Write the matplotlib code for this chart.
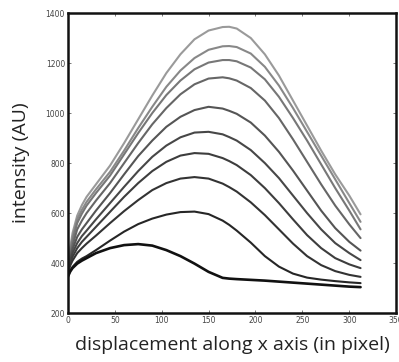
import matplotlib
matplotlib.use("Agg")
import matplotlib.pyplot as plt

x = [0, 2.5, 5, 10, 15, 20, 30, 45, 60, 75, 90, 105, 120, 135, 150, 165, 172, 180, 195, 210, 225, 240, 255, 270, 285, 300, 312]

c1 = [345, 366, 380, 398, 410, 420, 440, 460, 472, 476, 470, 452, 428, 398, 365, 341, 338, 336, 333, 330, 326, 322, 318, 314, 310, 306, 304]
c2 = [348, 370, 385, 405, 418, 428, 452, 490, 526, 556, 578, 594, 604, 606, 596, 570, 553, 530, 482, 428, 386, 358, 342, 334, 328, 323, 320]
c3 = [355, 390, 410, 440, 460, 478, 510, 560, 608, 652, 692, 720, 738, 744, 738, 718, 704, 686, 643, 592, 535, 478, 428, 392, 368, 353, 345]
c4 = [358, 400, 425, 460, 485, 505, 545, 605, 665, 720, 768, 805, 830, 840, 837, 820, 808, 792, 752, 700, 640, 575, 512, 460, 420, 395, 380]
c5 = [360, 410, 440, 480, 508, 530, 575, 640, 705, 768, 825, 870, 903, 922, 925, 915, 904, 890, 852, 800, 740, 670, 600, 535, 480, 440, 412]
c6 = [362, 420, 455, 505, 535, 560, 610, 680, 755, 828, 890, 945, 985, 1012, 1025, 1018, 1009, 997, 962, 910, 845, 770, 690, 610, 540, 485, 450]
c7 = [364, 430, 470, 535, 570, 600, 650, 720, 800, 880, 955, 1020, 1075, 1115, 1138, 1143, 1139, 1130, 1100, 1050, 980, 895, 805, 715, 630, 555, 500]
c8 = [366, 440, 490, 560, 598, 630, 680, 750, 835, 920, 1000, 1072, 1130, 1175, 1202, 1212, 1212, 1207, 1182, 1135, 1065, 980, 890, 795, 700, 610, 535]
c9 = [368, 450, 505, 575, 613, 645, 695, 765, 850, 940, 1025, 1105, 1170, 1220, 1253, 1267, 1268, 1264, 1238, 1185, 1110, 1020, 925, 830, 735, 640, 565]
c10 = [370, 460, 520, 590, 632, 665, 715, 790, 880, 975, 1070, 1160, 1235, 1295, 1330, 1344, 1345, 1338, 1300, 1235, 1150, 1050, 950, 850, 755, 670, 595]

series = [c1, c2, c3, c4, c5, c6, c7, c8, c9, c10]
grays = ["#111111", "#262626", "#333333", "#3d3d3d", "#474747", "#555555", "#666666", "#777777", "#888888", "#9a9a9a"]

xticks = [0, 50, 100, 150, 200, 250, 300, 350]
yticks = [200, 400, 600, 800, 1000, 1200, 1400]

fig = plt.figure(figsize=(3.99, 3.62), dpi=100)
ax = fig.add_axes([0.170, 0.135, 0.823, 0.829])

for i in range(len(series) - 1, -1, -1):
    ax.plot(x, series[i], color=grays[i], lw=1.5 if i > 0 else 1.9,
            solid_capstyle="round", solid_joinstyle="round")

ax.set_xlim(0, 350)
ax.set_ylim(200, 1400)
ax.set_xticks(xticks)
ax.set_yticks(yticks)
ax.set_xticklabels([str(t) for t in xticks])
ax.set_yticklabels([str(t) for t in yticks])
ax.tick_params(direction="in", length=2, width=0.5, labelsize=5.5, colors="#444444",
               top=True, right=True, pad=2)
for s in ax.spines.values():
    s.set_linewidth(1.8)
    s.set_color("#111111")

ax.set_xlabel("displacement along x axis (in pixel)", fontsize=14, family="Open Sans",
              color="#222222", labelpad=8)
ax.set_ylabel("intensity (AU)", fontsize=14, family="Open Sans", color="#222222", labelpad=11)

fig.savefig("out.png", dpi=100)
